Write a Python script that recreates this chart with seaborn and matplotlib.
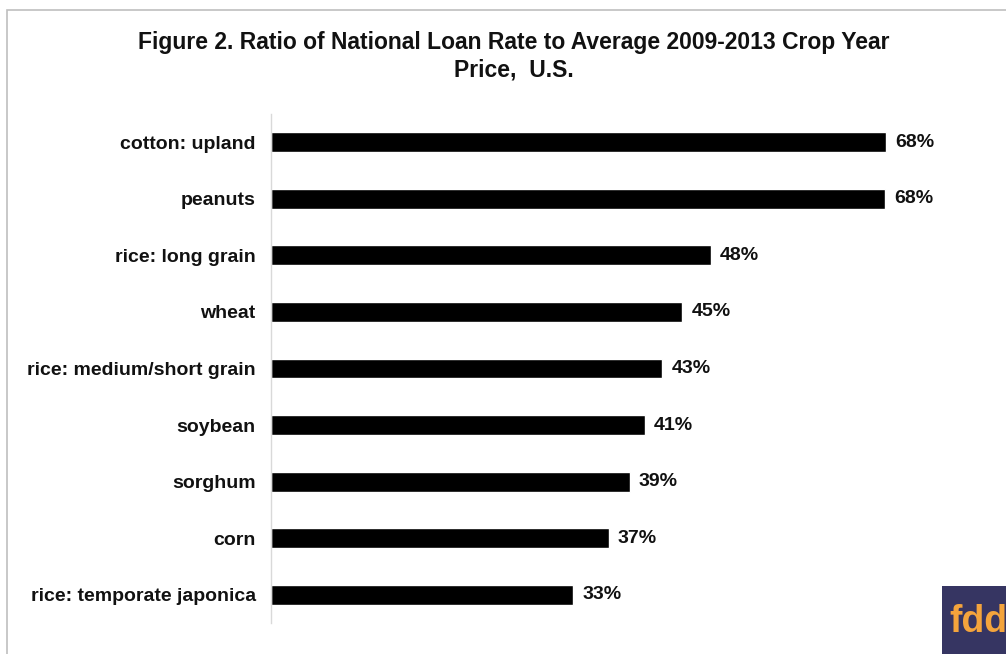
import matplotlib
matplotlib.use("Agg")
import matplotlib.pyplot as plt
import seaborn as sns
import pandas as pd
from matplotlib.patches import Rectangle

# Dados
culturas = ["cotton: upland", "peanuts", "rice: long grain", "wheat",
            "rice: medium/short grain", "soybean", "sorghum", "corn",
            "rice: temporate japonica"]
razao = [67.6, 67.5, 48.3, 45.2, 43.0, 41.1, 39.4, 37.1, 33.2]
rotulos = ["68%", "68%", "48%", "45%", "43%", "41%", "39%", "37%", "33%"]

df = pd.DataFrame({"cultura": culturas, "razao": razao})

sns.set_style("white")
plt.rcParams['font.family'] = ['Liberation Sans', 'DejaVu Sans']

W, H = 1006, 654
fig = plt.figure(figsize=(W / 100, H / 100), dpi=100)

# área do gráfico (em pixels)
left, right = 271, 271 + 75 * 9.10
top, bottom = 113.7, 623.3
ax = fig.add_axes([left / W, 1 - bottom / H, (right - left) / W, (bottom - top) / H])

sns.barplot(data=df, x="razao", y="cultura", color="black", width=0.35,
            saturation=1, ax=ax, orient="h")
ax.set_xlim(0, 75)
ax.set_ylim(len(culturas) - 0.5, -0.5)

for i, (v, r) in enumerate(zip(razao, rotulos)):
    ax.text(v + 1.0, i, r, va="center", ha="left", fontsize=14,
            fontweight="bold", color="#111111")

for s in ["top", "right", "bottom"]:
    ax.spines[s].set_visible(False)
ax.spines["left"].set_color("#d9d9d9")
ax.spines["left"].set_linewidth(1)
ax.set_xticks([])
ax.set_xlabel("")
ax.set_ylabel("")
ax.tick_params(axis="y", length=0, pad=11)
for t in ax.get_yticklabels():
    t.set_fontweight("bold")
    t.set_fontsize(14)
    t.set_color("#111111")

fig.text(514 / W, 1 - 42 / H, "Figure 2. Ratio of National Loan Rate to Average 2009-2013 Crop Year",
         ha="center", va="center", fontsize=16.5, fontweight="bold", color="#111111")
fig.text(514 / W, 1 - 70 / H, "Price,  U.S.",
         ha="center", va="center", fontsize=16.5, fontweight="bold", color="#111111")

# moldura cinza
fig.patches.append(Rectangle((7 / W, -0.01), 1.02, 1 - 10 / H + 0.01,
                             transform=fig.transFigure, fill=False,
                             edgecolor="#bfbfbf", linewidth=1.2))

# logo fdd
fig.patches.append(Rectangle((942 / W, 0), (W - 942) / W, 68 / H,
                             transform=fig.transFigure, facecolor="#363562",
                             edgecolor="none", zorder=5))
fig.text(949 / W, 1 - 622 / H, "fdd", ha="left", va="center", fontsize=27,
         fontweight="bold", color="#f4a43c", zorder=6)

plt.savefig("out.png", dpi=100)
plt.close()
